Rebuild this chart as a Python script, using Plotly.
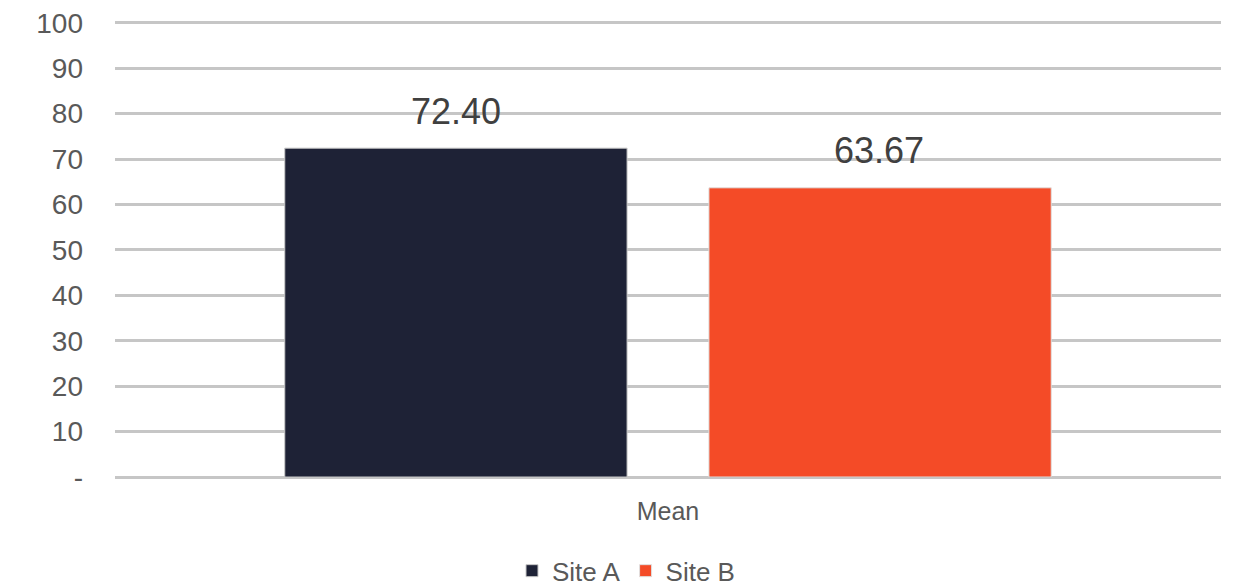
import plotly.graph_objects as go

categories = ["Mean"]
site_a = [72.40]
site_b = [63.67]
series_names = ["Site A", "Site B"]
tick_vals = [0, 10, 20, 30, 40, 50, 60, 70, 80, 90, 100]
tick_text = ["-", "10", "20", "30", "40", "50", "60", "70", "80", "90", "100"]

FONT = "Liberation Sans, Arial, sans-serif"

fig = go.Figure()
fig.add_trace(go.Bar(name=series_names[0], x=categories, y=site_a,
                     marker=dict(color="#1e2236", line=dict(color="#c8c8c8", width=1))))
fig.add_trace(go.Bar(name=series_names[1], x=categories, y=site_b,
                     marker=dict(color="#f44b27", line=dict(color="#e0e0e0", width=1))))

for val, shift in [(site_a[0], -212), (site_b[0], 211)]:
    fig.add_annotation(x=categories[0], y=val, xref="x", yref="y", text=f"{val:.2f}",
                       showarrow=False, xshift=shift, yshift=37, yanchor="middle",
                       font=dict(family=FONT, size=36, color="#404040"))

fig.update_layout(
    width=1236, height=585,
    margin=dict(l=107, r=23, t=13, b=116, autoexpand=False),
    paper_bgcolor="white", plot_bgcolor="white",
    barmode="group", bargap=0.233, bargroupgap=0.193,
    font=dict(family=FONT, size=26, color="#595959"),
    legend=dict(orientation="h", x=0.5, xanchor="center", xref="container",
                y=0.038, yanchor="middle", yref="container",
                font=dict(family=FONT, size=26, color="#595959"),
                itemwidth=30, traceorder="normal"),
    showlegend=True,
)
fig.update_yaxes(range=[0, 100.4], tickvals=tick_vals, ticktext=tick_text,
                 showgrid=True, gridcolor="#c6c6c6", gridwidth=2.5,
                 zeroline=True, zerolinecolor="#c6c6c6", zerolinewidth=2.5,
                 showline=False, ticks="", ticklabelstandoff=31, automargin=False,
                 ticklabeloverflow="allow",
                 tickfont=dict(family=FONT, size=28, color="#595959"))
fig.update_xaxes(showgrid=False, showline=False, ticks="", automargin=False,
                 ticklabelstandoff=17, ticklabeloverflow="allow",
                 tickfont=dict(family=FONT, size=25, color="#595959"))

fig.write_html("out.html")
